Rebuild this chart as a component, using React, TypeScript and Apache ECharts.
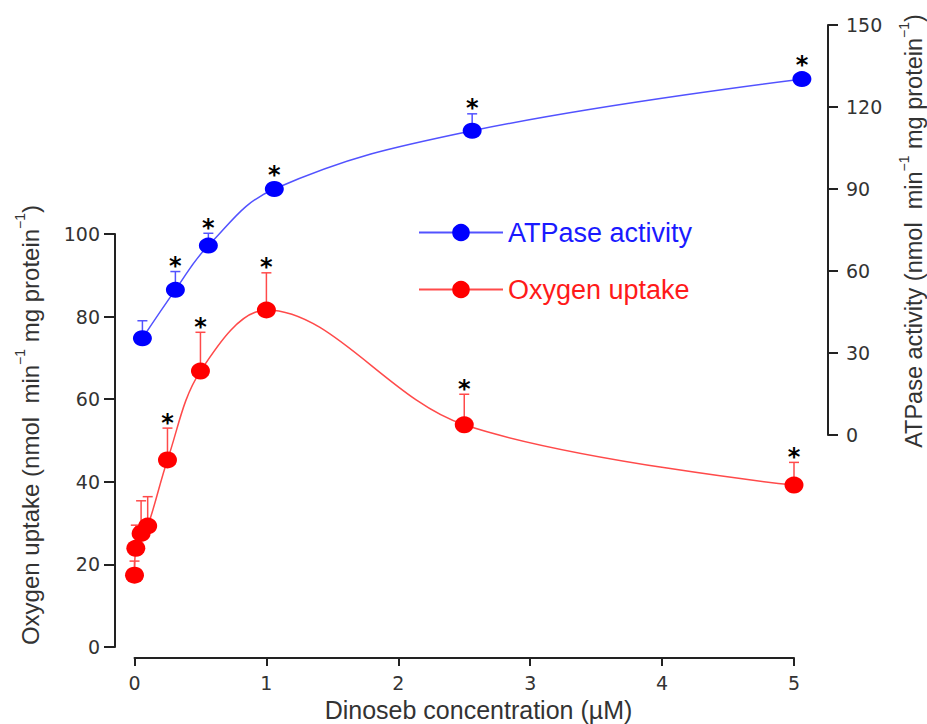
import React, { useEffect, useRef } from 'react';
import * as echarts from 'echarts';

// ---- data ----
const xTickValues = [0, 1, 2, 3, 4, 5];

const oxygenDose = [0, 0.01, 0.05, 0.1, 0.25, 0.5, 1, 2.5, 5];
const oxygenMean = [17.4, 23.9, 27.5, 29.3, 45.3, 66.8, 81.6, 53.8, 39.2];
const oxygenSem = [3.4, 5.6, 7.9, 7.1, 7.7, 9.4, 9.0, 7.4, 5.5];
const oxygenSig = [false, false, false, false, true, true, true, true, true];

const atpaseDose = [0.06, 0.31, 0.56, 1.06, 2.56, 5.06];
const atpaseMean = [35.4, 53.1, 69.3, 90.0, 111.3, 130.2];
const atpaseSem = [6.4, 6.7, 4.5, 2.0, 6.2, 2.0];
const atpaseSig = [false, true, true, true, true, true];

const legendNames = ['ATPase activity', 'Oxygen uptake'];
const xTitle = 'Dinoseb concentration (\u00b5M)';
const leftTitle = 'Oxygen uptake (nmol  min{s|\u22121} mg protein{s|\u22121})';
const rightTitle = 'ATPase activity (nmol  min{s|\u22121} mg protein{s|\u22121})';

const BLUE = '#0000ff';
const BLUE_LINE = '#5252ff';
const RED = '#ff0000';
const RED_LINE = '#ff4a4a';
const AXIS = '#222';
const LABEL = '#333';

function errRenderer(color: string) {
  return (params: any, api: any) => {
    const x = api.value(0);
    const y = api.value(1);
    const hi = api.value(2);
    const sig = api.value(3);
    const p = api.coord([x, y]);
    const t = api.coord([x, hi]);
    const children: any[] = [
      { type: 'line', shape: { x1: p[0], y1: p[1], x2: t[0], y2: t[1] }, style: { stroke: color, lineWidth: 1.5 } },
      { type: 'line', shape: { x1: t[0] - 5, y1: t[1], x2: t[0] + 5, y2: t[1] }, style: { stroke: color, lineWidth: 1.5 } },
    ];
    if (sig) {
      const base = Math.min(t[1], p[1] - 9);
      children.push({
        type: 'text',
        x: t[0],
        y: base - 5.5,
        style: {
          text: '*',
          fill: '#000',
          fontSize: 24,
          fontWeight: 'bold',
          fontFamily: 'DejaVu Sans',
          align: 'center',
          verticalAlign: 'middle',
        },
      });
    }
    return { type: 'group', children };
  };
}

const tickLabelStyle = { fontFamily: 'DejaVu Sans', fontSize: 19, color: LABEL };

export default function App() {
  const ref = useRef<HTMLDivElement>(null);
  useEffect(() => {
    if (!ref.current) return;
    const chart = echarts.init(ref.current, undefined, { renderer: 'svg' });
    const titleRich = {
      s: { fontFamily: 'Liberation Sans', fontSize: 14, lineHeight: 16, verticalAlign: 'top', fill: LABEL },
    };
    const option: any = {
      animation: false,
      backgroundColor: '#ffffff',
      grid: [
        { left: 134.5, right: 133, top: 234, bottom: 77 },
        { left: 134.5, right: 133, top: 25, bottom: 289 },
      ],
      xAxis: [
        {
          gridIndex: 0,
          type: 'value',
          min: xTickValues[0],
          max: xTickValues[xTickValues.length - 1],
          interval: 1,
          position: 'bottom',
          offset: 11,
          axisLine: { show: true, onZero: false, lineStyle: { color: AXIS, width: 2 } },
          axisTick: { show: true, length: 8, lineStyle: { color: AXIS, width: 2 } },
          axisLabel: { ...tickLabelStyle, margin: 15 },
          splitLine: { show: false },
        },
        {
          gridIndex: 1,
          type: 'value',
          min: xTickValues[0],
          max: xTickValues[xTickValues.length - 1],
          show: false,
          axisLine: { onZero: false },
          splitLine: { show: false },
        },
      ],
      yAxis: [
        {
          gridIndex: 0,
          type: 'value',
          position: 'left',
          min: 0,
          max: 100,
          interval: 20,
          offset: 19.5,
          axisLine: { show: true, onZero: false, lineStyle: { color: AXIS, width: 2 } },
          axisTick: { show: true, length: 11, lineStyle: { color: AXIS, width: 2 } },
          axisLabel: { ...tickLabelStyle, margin: 15 },
          splitLine: { show: false },
        },
        {
          gridIndex: 1,
          type: 'value',
          position: 'right',
          min: 0,
          max: 150,
          interval: 30,
          offset: 34,
          axisLine: { show: true, onZero: false, lineStyle: { color: AXIS, width: 2 } },
          axisTick: { show: true, length: 10, lineStyle: { color: AXIS, width: 2 } },
          axisLabel: { ...tickLabelStyle, margin: 18 },
          splitLine: { show: false },
        },
      ],
      legend: {
        orient: 'vertical',
        left: 418,
        top: 219,
        padding: 0,
        itemWidth: 84,
        itemHeight: 22,
        itemGap: 30,
        selectedMode: false,
        textStyle: { fontFamily: 'Liberation Sans', fontSize: 27 },
        data: [
          { name: legendNames[0], textStyle: { color: '#1a1aff' } },
          { name: legendNames[1], textStyle: { color: '#ff1a1a' } },
        ],
      },
      graphic: [
        {
          type: 'text',
          x: 30,
          y: 425,
          rotation: Math.PI / 2,
          style: {
            text: leftTitle,
            fontFamily: 'Liberation Sans',
            fontSize: 24,
            lineHeight: 34,
            fill: LABEL,
            align: 'center',
            verticalAlign: 'middle',
            rich: titleRich,
          },
        },
        {
          type: 'text',
          x: 914,
          y: 231,
          rotation: Math.PI / 2,
          style: {
            text: rightTitle,
            fontFamily: 'Liberation Sans',
            fontSize: 23.5,
            lineHeight: 34,
            fill: LABEL,
            align: 'center',
            verticalAlign: 'middle',
            rich: titleRich,
          },
        },
        {
          type: 'text',
          x: 478.5,
          y: 710,
          style: {
            text: xTitle,
            fontFamily: 'Liberation Sans',
            fontSize: 25,
            fill: LABEL,
            align: 'center',
            verticalAlign: 'middle',
          },
        },
      ],
      series: [
        {
          type: 'custom',
          name: 'oxygen-err',
          xAxisIndex: 0,
          yAxisIndex: 0,
          z: 1,
          silent: true,
          clip: false,
          encode: { x: 0, y: 1 },
          data: oxygenDose.map((d, i) => [d, oxygenMean[i], oxygenMean[i] + oxygenSem[i], oxygenSig[i] ? 1 : 0]),
          renderItem: errRenderer(RED_LINE),
        },
        {
          type: 'custom',
          name: 'atpase-err',
          xAxisIndex: 1,
          yAxisIndex: 1,
          z: 1,
          silent: true,
          clip: false,
          encode: { x: 0, y: 1 },
          data: atpaseDose.map((d, i) => [d, atpaseMean[i], atpaseMean[i] + atpaseSem[i], atpaseSig[i] ? 1 : 0]),
          renderItem: errRenderer(BLUE_LINE),
        },
        {
          type: 'line',
          name: legendNames[0],
          xAxisIndex: 1,
          yAxisIndex: 1,
          z: 3,
          clip: false,
          smooth: 0.4,
          symbol: 'circle',
          symbolSize: [19, 16],
          itemStyle: { color: BLUE },
          lineStyle: { color: BLUE_LINE, width: 1.5 },
          data: atpaseDose.map((d, i) => [d, atpaseMean[i]]),
        },
        {
          type: 'line',
          name: legendNames[1],
          xAxisIndex: 0,
          yAxisIndex: 0,
          z: 3,
          clip: false,
          smooth: 0.35,
          symbol: 'circle',
          symbolSize: [19, 17],
          itemStyle: { color: RED },
          lineStyle: { color: RED_LINE, width: 1.5 },
          data: oxygenDose.map((d, i) => [d, oxygenMean[i]]),
        },
      ],
    };
    chart.setOption(option);
    return () => chart.dispose();
  }, []);
  return (
    <div
      ref={ref}
      style={{ position: 'absolute', left: 0, top: 0, width: 927, height: 724, background: '#fff' }}
    />
  );
}
